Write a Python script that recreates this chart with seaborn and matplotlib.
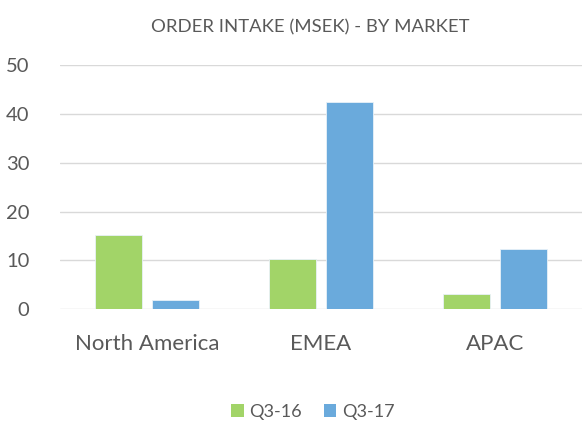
import matplotlib
matplotlib.use("Agg")
import matplotlib.pyplot as plt
import seaborn as sns
import pandas as pd
from matplotlib.patches import Patch

markets = ["North America", "EMEA", "APAC"]
series = ["Q3-16", "Q3-17"]
q3_16 = [15.1, 10.2, 3.1]
q3_17 = [1.8, 42.5, 12.3]
yticks = [0, 10, 20, 30, 40, 50]
colors = ["#a2d468", "#6aaadc"]

df = pd.DataFrame({
    "Market": markets * 2,
    "Period": [series[0]] * 3 + [series[1]] * 3,
    "Value": q3_16 + q3_17,
})

sns.set_theme(style="white")
plt.rcParams["font.family"] = ["Lato", "DejaVu Sans"]

fig = plt.figure(figsize=(5.82, 4.22), dpi=100)
ax = fig.add_axes([60 / 582, 1 - 309 / 422, 1 - 60 / 582, (309 - 65.5) / 422])

sns.barplot(data=df, x="Market", y="Value", hue="Period", order=markets,
            hue_order=series, palette=colors, width=0.664, gap=0.187,
            saturation=1, edgecolor="#e8f1f8", linewidth=0.6, ax=ax, legend=False,
            zorder=3)

ax.set_ylim(0, 50)
ax.set_xlim(-0.5, 2.5)
ax.set_yticks(yticks)
ax.set_yticklabels([str(t) for t in yticks])
ax.yaxis.grid(True, color="#d9d9d9", linewidth=1.0, zorder=0)
ax.set_axisbelow(True)
for s in ax.spines.values():
    s.set_visible(False)
ax.set_xlabel("")
ax.set_ylabel("")
ax.tick_params(axis="y", length=0, pad=22, labelsize=14.5, labelcolor="#595959")
ax.tick_params(axis="x", length=0, pad=18, labelsize=16, labelcolor="#595959")

fig.text(310 / 582, 1 - 27 / 422, "ORDER INTAKE (MSEK) - BY MARKET", ha="center",
         va="center", fontsize=13.3, color="#595959")

handles = [Patch(facecolor=c, edgecolor="none") for c in colors]
fig.legend(handles, series, loc="center", bbox_to_anchor=(313 / 582, 1 - 412 / 422),
           ncol=2, frameon=False, fontsize=13, labelcolor="#595959",
           handlelength=0.7, handleheight=0.7, handletextpad=0.3, columnspacing=1.2)

fig.savefig("out.png", dpi=100)
